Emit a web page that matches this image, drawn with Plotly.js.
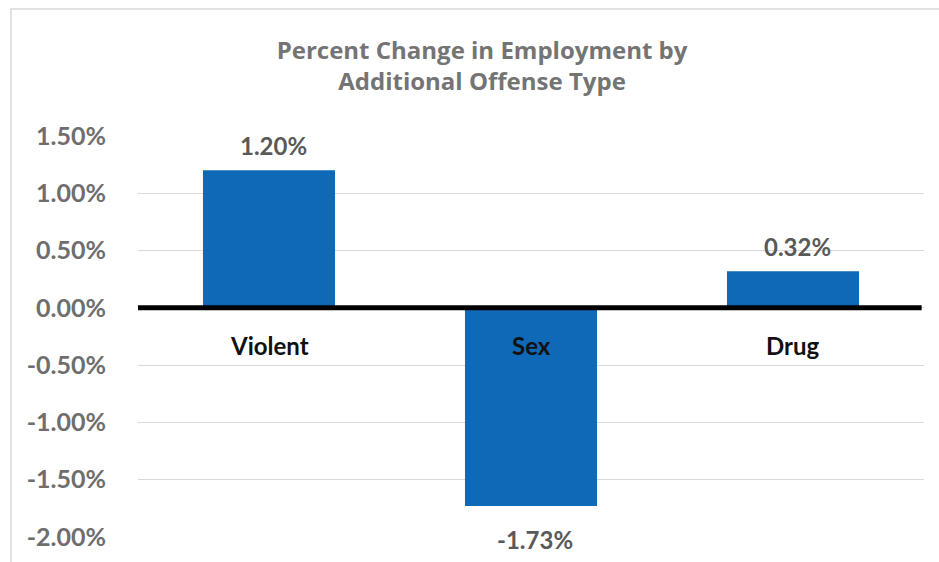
<!DOCTYPE html>
<html>
<head>
<meta charset="utf-8">
<script src="https://cdn.plot.ly/plotly-3.0.1.min.js"></script>
<style>html,body{margin:0;padding:0;background:#fff;}#chart{width:939px;height:562px;}</style>
</head>
<body>
<div id="chart"></div>
<script>
const categories = ["Violent", "Sex", "Drug"];
const values = [1.20, -1.73, 0.32];
const barLabels = ["1.20%", "-1.73%", "0.32%"];
const tickVals = [1.5, 1.0, 0.5, 0.0, -0.5, -1.0, -1.5, -2.0];
const tickText = ["1.50%", "1.00%", "0.50%", "0.00%", "-0.50%", "-1.00%", "-1.50%", "-2.00%"];
const titleText = "Percent Change in Employment by<br>Additional Offense Type";

const TITLEFONT = "Open Sans, Noto Sans, sans-serif";
const FONT = "Lato, Open Sans, sans-serif";

const trace = {
  type: "bar",
  x: categories,
  y: values,
  marker: {color: "#0f69b6", line: {width: 0}},
  hoverinfo: "skip"
};

const catAnn = categories.map((c, i) => ({
  x: c, y: -0.35, xref: "x", yref: "y",
  text: "<b>" + c + "</b>", showarrow: false, yshift: 2,
  font: {family: FONT, size: 24, color: "#111111"}
}));

const valAnn = categories.map((c, i) => ({
  x: c, y: values[i], xref: "x", yref: "y",
  text: "<b>" + barLabels[i] + "</b>", showarrow: false,
  xshift: 4,
  yshift: values[i] >= 0 ? 25 : -33,
  font: {family: FONT, size: 24, color: "#595959"}
}));

const layout = {
  width: 939, height: 562,
  margin: {l: 138, r: 15, t: 136, b: 25},
  paper_bgcolor: "#ffffff", plot_bgcolor: "#ffffff",
  showlegend: false,
  bargap: 0.496,
  title: {text: "<b>" + titleText + "</b>", x: 0.4377, xref: "paper", xanchor: "center",
          y: 0.8945, yanchor: "middle",
          font: {family: TITLEFONT, size: 24, color: "#747474", lineposition: "none"}},
  xaxis: {showticklabels: false, showgrid: false, zeroline: false, showline: false, ticks: ""},
  yaxis: {range: [-2, 1.5], tickvals: tickVals, ticktext: tickText, showgrid: true,
          gridcolor: "#d9d9d9", gridwidth: 1, zeroline: false, showline: false,
          ticks: "outside", ticklen: 26, tickcolor: "rgba(0,0,0,0)",
          tickfont: {family: FONT, size: 25, color: "#6e6e6e", weight: "bold"}},
  annotations: catAnn.concat(valAnn),
  shapes: [
    {type: "rect", xref: "paper", yref: "paper", x0: -0.1616, x1: 2, y0: -1, y1: 1.3167,
     line: {color: "#d9d9d9", width: 1.5}, fillcolor: "rgba(0,0,0,0)", layer: "below"},
    {type: "line", xref: "paper", yref: "y", x0: 0, x1: 0.997, y0: 0, y1: 0,
     line: {color: "#000000", width: 5}, layer: "above"}
  ]
};

Plotly.newPlot("chart", [trace], layout, {staticPlot: true, displayModeBar: false});
</script>
</body>
</html>
